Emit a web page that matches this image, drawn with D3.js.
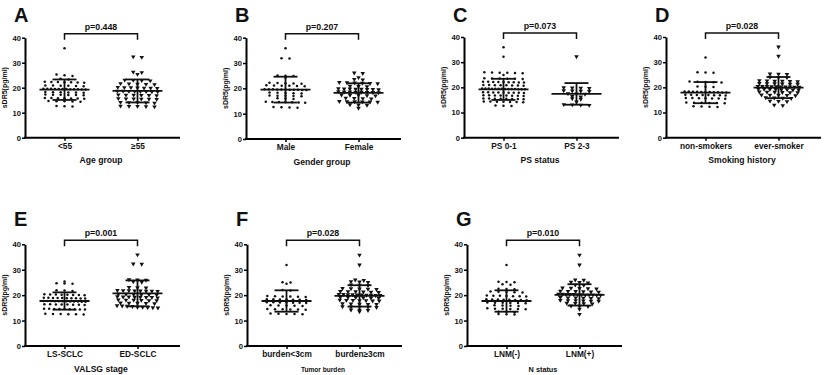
<!DOCTYPE html>
<html>
<head>
<meta charset="utf-8">
<script src="https://cdn.jsdelivr.net/npm/d3@7"></script>
<style>
  body { margin: 0; background: #fff; }
  text { font-family: "Liberation Sans", Arial, sans-serif; fill: #111; }
</style>
</head>
<body>
<div id="chart"></div>
<script>
// ---- data (sDR5, pg/ml) ----
const ageLt55 = [35.8, 25.3, 25.0, 24.7, 23.6, 23.3, 22.3, 22.1, 22.2, 22.4, 22.0, 22.2, 22.3, 20.9, 20.7, 20.8, 20.6, 20.9, 20.8, 19.6, 19.4, 19.5, 19.3, 19.5, 19.6, 19.4, 19.5, 19.3, 19.6, 19.5, 19.4, 18.2, 18.0, 18.1, 18.3, 18.1, 18.2, 17.2, 17.1, 17.3, 17.0, 17.2, 17.1, 15.9, 15.7, 15.8, 15.9, 15.6, 15.8, 15.7, 14.6, 14.5, 14.7, 14.4, 14.6, 12.7, 12.5, 12.6];
const ageGe55 = [32.4, 32.2, 26.3, 26.1, 25.4, 23.1, 22.9, 23.0, 22.8, 21.6, 21.4, 21.5, 21.7, 21.3, 20.1, 19.9, 20.0, 20.2, 19.8, 20.1, 19.9, 18.6, 18.5, 18.7, 18.4, 18.6, 18.5, 18.7, 18.4, 17.1, 17.0, 17.2, 16.9, 17.1, 17.0, 15.6, 15.5, 15.7, 15.4, 15.6, 15.5, 14.1, 14.0, 14.2, 13.9, 14.1, 12.6, 12.4, 12.5, 12.7, 12.6];
const genderMale = [35.8, 31.9, 31.8, 25.1, 24.9, 25.0, 24.2, 22.1, 21.9, 22.0, 22.2, 21.8, 21.1, 20.9, 21.0, 21.2, 20.8, 21.0, 19.6, 19.4, 19.5, 19.3, 19.6, 19.5, 19.4, 19.6, 19.5, 19.3, 19.4, 18.3, 18.1, 18.2, 18.4, 18.0, 17.1, 17.0, 17.2, 16.9, 17.1, 16.0, 15.8, 16.1, 14.6, 14.4, 14.5, 14.7, 14.3, 14.6, 14.5, 12.6, 12.4, 12.5, 12.3];
const genderFemale = [26.1, 25.9, 24.3, 23.6, 23.4, 22.3, 22.1, 22.2, 22.4, 21.9, 22.0, 20.9, 20.7, 20.8, 19.8, 19.6, 19.7, 19.9, 19.5, 19.8, 19.6, 19.7, 18.5, 18.4, 18.6, 18.3, 18.5, 18.7, 18.4, 18.6, 17.3, 17.2, 17.4, 17.1, 17.3, 16.1, 15.9, 16.0, 16.2, 14.8, 14.7, 14.9, 14.6, 14.8, 14.7, 13.5, 13.4, 13.6, 12.2];
const ps01 = [35.9, 32.2, 25.9, 25.7, 25.8, 26.0, 25.6, 25.8, 24.9, 23.5, 23.4, 23.6, 23.3, 23.5, 23.4, 22.1, 22.0, 22.2, 21.9, 22.1, 22.0, 22.2, 21.9, 22.1, 20.8, 20.7, 20.9, 20.6, 20.8, 20.7, 20.9, 20.8, 19.4, 19.3, 19.5, 19.2, 19.4, 19.3, 19.5, 19.2, 19.4, 19.3, 19.5, 19.2, 19.4, 19.3, 18.0, 17.9, 18.1, 17.8, 18.0, 17.9, 18.1, 18.0, 17.9, 16.8, 16.7, 16.9, 16.6, 16.8, 16.7, 16.9, 16.8, 15.5, 15.4, 15.6, 15.3, 15.5, 15.4, 15.6, 15.5, 14.3, 14.2, 14.4, 14.1, 14.3, 14.2, 14.4, 12.8, 12.6, 12.7];
const ps23 = [32.2, 19.9, 19.7, 19.8, 19.6, 18.6, 18.4, 18.5, 18.7, 17.5, 17.3, 17.4, 16.4, 16.2, 15.5, 15.3, 14.3, 13.2, 13.0, 13.1, 12.9];
const nonSmokers = [31.9, 26.0, 25.8, 25.9, 22.2, 22.0, 22.1, 21.9, 22.3, 20.3, 20.1, 20.2, 18.3, 18.1, 18.2, 18.4, 18.0, 18.3, 18.1, 18.2, 18.4, 18.0, 18.2, 17.0, 16.9, 17.1, 16.8, 17.0, 16.9, 17.1, 17.0, 15.7, 15.6, 15.8, 15.5, 15.7, 15.6, 15.8, 13.9, 13.8, 14.0, 13.7, 13.9, 13.8, 12.4, 12.2, 12.3, 12.5];
const everSmoker = [36.1, 32.4, 25.4, 25.2, 25.3, 24.1, 23.9, 24.0, 22.6, 22.4, 22.5, 22.7, 22.3, 22.5, 21.5, 21.3, 21.4, 21.6, 21.5, 21.3, 20.4, 20.2, 20.3, 20.1, 20.4, 20.2, 20.3, 20.1, 20.4, 20.2, 19.2, 19.0, 19.1, 19.3, 19.0, 19.2, 19.1, 19.3, 18.1, 17.9, 18.0, 18.2, 17.9, 18.1, 16.9, 16.8, 17.0, 16.7, 16.9, 15.8, 15.6, 15.7, 15.9, 14.5, 14.4, 14.6, 13.0, 12.8];
const lsSclc = [25.4, 24.7, 24.5, 24.6, 21.8, 21.6, 21.9, 20.3, 20.1, 20.2, 20.4, 20.0, 20.2, 20.3, 20.1, 18.9, 18.8, 19.0, 18.7, 18.9, 18.8, 19.0, 18.7, 18.9, 18.8, 17.6, 17.5, 17.7, 17.4, 17.6, 17.5, 17.7, 17.4, 17.6, 17.5, 17.7, 17.6, 16.3, 16.2, 16.4, 16.1, 16.3, 16.2, 16.4, 16.3, 14.6, 14.5, 14.7, 14.4, 14.6, 14.5, 14.7, 14.4, 14.6, 12.6, 12.5, 12.7, 12.4, 12.6, 12.5];
const edSclc = [35.9, 32.3, 32.2, 26.1, 25.9, 26.0, 25.3, 25.1, 23.1, 22.9, 23.0, 21.8, 21.6, 21.7, 21.9, 21.5, 21.8, 21.6, 21.7, 20.4, 20.2, 20.3, 20.1, 20.4, 20.2, 19.3, 19.1, 19.2, 19.4, 19.0, 19.3, 19.1, 19.2, 18.1, 17.9, 18.0, 18.2, 17.9, 18.1, 16.9, 16.8, 17.0, 16.7, 16.9, 15.9, 15.7, 15.8, 15.6, 15.3, 15.1, 15.2, 15.0, 15.3];
const burdenLt3 = [31.9, 25.1, 25.0, 24.5, 22.0, 21.8, 19.6, 19.4, 19.5, 19.7, 19.3, 19.5, 18.3, 18.2, 18.4, 18.1, 18.3, 18.2, 18.4, 17.1, 17.0, 17.2, 16.9, 17.1, 17.0, 17.2, 15.9, 15.8, 16.0, 15.7, 15.9, 14.5, 14.4, 14.6, 14.3, 14.5, 14.4, 12.7, 12.6, 12.8, 12.5, 12.6];
const burdenGe3 = [35.8, 31.9, 26.0, 25.8, 25.2, 25.0, 25.3, 24.0, 23.8, 24.1, 22.6, 22.4, 22.5, 22.7, 22.3, 21.4, 21.2, 21.3, 21.5, 21.1, 21.4, 20.2, 20.0, 20.1, 20.3, 19.9, 20.2, 20.0, 20.1, 20.3, 19.9, 19.1, 18.9, 19.0, 19.2, 18.9, 19.1, 18.0, 17.8, 17.9, 18.1, 17.8, 18.0, 17.9, 16.6, 16.4, 16.5, 16.7, 16.4, 15.4, 15.2, 15.3, 15.5, 15.3, 14.2, 14.0, 14.1, 13.5];
const lnmNeg = [31.9, 25.3, 25.1, 25.2, 24.3, 24.1, 22.5, 22.3, 22.4, 21.3, 21.1, 21.2, 21.4, 21.0, 19.8, 19.6, 19.7, 19.9, 19.5, 19.8, 19.6, 18.3, 18.1, 18.2, 18.4, 18.0, 18.3, 18.1, 18.2, 17.0, 16.9, 17.1, 16.8, 17.0, 16.9, 15.9, 15.7, 15.8, 16.0, 14.7, 14.6, 14.8, 14.5, 14.7, 14.6, 13.5, 13.4, 13.3, 12.6, 12.5, 12.4];
const lnmPos = [35.8, 31.9, 26.0, 25.9, 25.1, 24.9, 25.0, 24.0, 23.9, 22.8, 22.6, 22.7, 22.9, 22.5, 21.5, 21.3, 21.4, 21.6, 21.2, 21.5, 20.3, 20.1, 20.2, 20.4, 20.0, 20.3, 20.1, 20.2, 20.4, 20.0, 20.3, 20.1, 19.0, 18.8, 18.9, 19.1, 18.7, 19.0, 17.9, 17.7, 17.8, 18.0, 17.7, 17.9, 16.8, 16.6, 16.7, 16.9, 15.8, 15.6, 15.7, 14.5, 12.5];

const groupValues = [
  [ageLt55, ageGe55], [genderMale, genderFemale], [ps01, ps23], [nonSmokers, everSmoker],
  [lsSclc, edSclc], [burdenLt3, burdenGe3], [lnmNeg, lnmPos]
];
const panelLetters = ["A", "B", "C", "D", "E", "F", "G"];
const groupNames = [
  ["<55", "≥55"], ["Male", "Female"], ["PS 0-1", "PS 2-3"], ["non-smokers", "ever-smoker"],
  ["LS-SCLC", "ED-SCLC"], ["burden<3cm", "burden≥3cm"], ["LNM(-)", "LNM(+)"]
];
const axisTitles = ["Age group", "Gender group", "PS status", "Smoking history", "VALSG stage", "Tumor burden", "N status"];
const pLabels = ["p=0.448", "p=0.207", "p=0.073", "p=0.028", "p=0.001", "p=0.028", "p=0.010"];
// mean and SD
const means = [[19.2, 18.7], [19.5, 18.2], [19.2, 17.4], [17.9, 19.9], [17.7, 20.7], [17.7, 19.7], [17.7, 20.1]];
const sds = [[4.1, 4.6], [5.1, 3.8], [4.2, 4.3], [4.2, 4.2], [3.4, 5.1], [4.2, 4.2], [4.2, 4.2]];
const yTicks = [0, 10, 20, 30, 40];
const yLabel = "sDR5(pg/ml)";

// ---- layout (pixel positions of each panel) ----
const layout = [
  { x: 25,  top: 37.7, bottom: 137.7, titleSize: 8.6 },
  { x: 246, top: 37.7, bottom: 139,   titleSize: 8.6 },
  { x: 464, top: 37,   bottom: 137.7, titleSize: 8.6 },
  { x: 666, top: 37,   bottom: 137.7, titleSize: 8.6 },
  { x: 25,  top: 244.3, bottom: 346,  titleSize: 8.6 },
  { x: 247, top: 244.3, bottom: 346,  titleSize: 6.6 },
  { x: 467, top: 244.3, bottom: 346,  titleSize: 7.3 }
];
const axisLen = 155;
const font = '"Liberation Sans", Arial, sans-serif';

const svg = d3.select("#chart").append("svg")
  .attr("width", 825)
  .attr("height", 375)
  .style("display", "block");

// Prism-style scatter: close values form a row, each row is spread
// symmetrically, wider rows get tighter spacing
function spreadRows(values, y, width, maxStep) {
  const sorted = values.slice().sort((a, b) => b - a);
  const rows = [];
  sorted.forEach(v => {
    const last = rows[rows.length - 1];
    if (last && last[last.length - 1] - v < 0.5) last.push(v);
    else rows.push([v]);
  });
  const out = [];
  rows.forEach(row => {
    const n = row.length;
    const step = Math.min(maxStep, width / n);
    row.forEach((v, k) => out.push({ v, dx: (k - (n - 1) / 2) * step, py: y(v) }));
  });
  return out;
}

const triangle = d3.symbol().type(d3.symbolTriangle).size(9);

layout.forEach((L, i) => {
  const g = svg.append("g").attr("transform", `translate(${L.x},0)`);

  const y = d3.scaleLinear().domain([0, 40]).range([L.bottom, L.top]);
  const x = d3.scalePoint().domain(groupNames[i]).range([3, 149]).padding(0.5);

  // panel letter
  g.append("text")
    .attr("x", -11)
    .attr("y", L.top - (i < 4 ? 15.5 : 18))
    .attr("font-size", 20)
    .attr("font-weight", "bold")
    .style("font-family", font)
    .text(panelLetters[i]);

  // y axis
  const yAxis = g.append("g")
    .call(d3.axisLeft(y).tickValues(yTicks).tickSize(3).tickPadding(1).tickSizeOuter(0));
  yAxis.select(".domain").attr("stroke-width", 2);
  yAxis.selectAll(".tick line").attr("stroke-width", 1.5);
  yAxis.selectAll("text")
    .attr("font-size", 7.6)
    .attr("font-weight", "bold")
    .style("font-family", font);

  // x axis
  const xAxis = g.append("g")
    .attr("transform", `translate(0,${L.bottom})`)
    .call(d3.axisBottom(x).tickSize(3).tickPadding(2).tickSizeOuter(0));
  xAxis.select(".domain").attr("d", `M-1,0H${axisLen}`).attr("stroke-width", 2);
  xAxis.selectAll(".tick line").attr("stroke-width", 1.5);
  xAxis.selectAll("text")
    .attr("font-size", 8.3)
    .attr("font-weight", "bold")
    .style("font-family", font);

  // y label
  g.append("text")
    .attr("transform", `translate(-18,${(L.top + L.bottom) / 2}) rotate(-90)`)
    .attr("text-anchor", "middle")
    .attr("font-size", 7)
    .attr("font-weight", "bold")
    .style("font-family", font)
    .text(yLabel);

  // x title
  g.append("text")
    .attr("x", (x(groupNames[i][0]) + x(groupNames[i][1])) / 2)
    .attr("y", L.bottom + 25.5)
    .attr("text-anchor", "middle")
    .attr("font-size", L.titleSize)
    .attr("font-weight", "bold")
    .style("font-family", font)
    .text(axisTitles[i]);

  // significance bracket
  const x1 = x(groupNames[i][0]), x2 = x(groupNames[i][1]);
  const by = L.top - 4;
  g.append("path")
    .attr("d", `M${x1},${by + 6}V${by}H${x2}V${by + 6}`)
    .attr("fill", "none")
    .attr("stroke", "#111")
    .attr("stroke-width", 1.5);
  g.append("text")
    .attr("x", (x1 + x2) / 2)
    .attr("y", L.top - 8)
    .attr("text-anchor", "middle")
    .attr("font-size", 8.8)
    .attr("font-weight", "bold")
    .style("font-family", font)
    .text(pLabels[i]);

  // points, mean and SD for each group
  groupNames[i].forEach((name, j) => {
    const cx = x(name);
    const pts = spreadRows(groupValues[i][j], y, 46, j === 0 ? 8 : 8.5);
    if (j === 0) {
      g.selectAll(null).data(pts).join("circle")
        .attr("cx", d => cx + d.dx)
        .attr("cy", d => d.py)
        .attr("r", 1.25)
        .attr("fill", "#111");
    } else {
      g.selectAll(null).data(pts).join("path")
        .attr("d", triangle)
        .attr("transform", d => `translate(${cx + d.dx},${d.py}) rotate(180)`)
        .attr("fill", "#111");
    }

    const m = means[i][j], s = sds[i][j];
    const lines = [
      [cx - 25, y(m), cx + 25, y(m)],
      [cx, y(m - s), cx, y(m + s)],
      [cx - 12, y(m + s), cx + 12, y(m + s)],
      [cx - 12, y(m - s), cx + 12, y(m - s)]
    ];
    g.selectAll(null).data(lines).join("line")
      .attr("x1", d => d[0]).attr("y1", d => d[1])
      .attr("x2", d => d[2]).attr("y2", d => d[3])
      .attr("stroke", "#111")
      .attr("stroke-width", 1.8);
  });
});
</script>
</body>
</html>
